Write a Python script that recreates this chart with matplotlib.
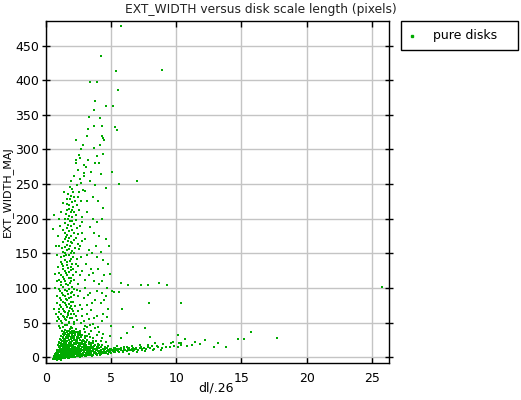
import matplotlib
matplotlib.use("Agg")
import matplotlib.pyplot as plt
from matplotlib.patches import Rectangle
from matplotlib.lines import Line2D

# values (x = dl/.26, y = EXT_WIDTH_MAJ)
core_pts = [
    (0.55, -3), (0.7, -2), (0.85, -4), (1.0, -2.5), (1.2, -3.5), (1.45, -1.5), (0.6, 0), (0.8, 1),
    (0.95, -0.5), (1.1, 0.5), (1.3, -1), (1.55, 0.5), (1.75, -0.5), (2.0, 1), (2.25, 0), (2.5, 1.5),
    (2.8, 2), (3.1, 1), (3.4, 2.5), (0.65, 2), (0.9, 3), (1.05, 2), (1.25, 3.5), (1.4, 2), (1.65, 3),
    (1.9, 2.5), (2.15, 3.5), (2.4, 3), (2.7, 4), (3.0, 3.5), (3.3, 4.5), (3.6, 3.5), (3.9, 5), (4.2, 4.5),
    (4.5, 5.5), (0.75, 5), (0.95, 6), (1.15, 4.5), (1.35, 6), (1.5, 5), (1.7, 6.5), (1.85, 4.5), (2.05, 6),
    (2.3, 5), (2.55, 6.5), (2.85, 6), (3.15, 7), (3.45, 6), (3.75, 7.5), (4.05, 7), (4.35, 8), (4.65, 7.5),
    (4.95, 8.5), (5.25, 8), (5.55, 9), (0.85, 8), (1.0, 9), (1.2, 7.5), (1.4, 9), (1.6, 8), (1.8, 9.5),
    (1.95, 7.5), (2.2, 9), (2.45, 8), (2.7, 9.5), (2.95, 8.5), (3.25, 10), (3.55, 9), (3.85, 10.5),
    (4.15, 9.5), (4.45, 10.5), (4.8, 10), (5.1, 11), (5.4, 10.5), (5.7, 11.5), (6.0, 11), (6.3, 12),
    (6.6, 11.5), (0.9, 11), (1.1, 12), (1.3, 10.5), (1.5, 12.5), (1.7, 11), (1.9, 12), (2.1, 10.5),
    (2.35, 12), (2.6, 11), (2.9, 12.5), (3.2, 11.5), (3.5, 13), (3.8, 12), (4.1, 13), (4.4, 12.5),
    (4.7, 13.5), (5.0, 12.5), (5.3, 13.5), (5.8, 13), (6.2, 14), (6.9, 13.5), (7.3, 14.5),
    (1.0, 14), (1.2, 15.5), (1.4, 14), (1.6, 16), (1.8, 14.5), (2.0, 16), (2.25, 14.5), (2.5, 16),
    (2.75, 14.5), (3.05, 16), (3.35, 15), (3.7, 16.5), (4.0, 15.5), (4.35, 17), (4.8, 16),
    (0.95, 18), (1.15, 19), (1.35, 17.5), (1.55, 19.5), (1.75, 18), (1.95, 20), (2.2, 18.5), (2.45, 20),
    (2.7, 18.5), (3.0, 20.5), (3.3, 19), (3.65, 21), (4.0, 19.5), (1.05, 22), (1.25, 23.5), (1.45, 21.5),
    (1.65, 24), (1.85, 22.5), (2.05, 24), (2.3, 22), (2.6, 24.5), (2.9, 23), (3.2, 25), (3.6, 23.5),
    (4.2, 24), (1.1, 26), (1.3, 27.5), (1.5, 26), (1.7, 28), (1.9, 26.5), (2.15, 28), (2.4, 26.5),
    (2.7, 28.5), (3.0, 27), (3.4, 29), (1.2, 30), (1.4, 31.5), (1.6, 30), (1.8, 32), (2.0, 30.5),
    (2.25, 32), (2.5, 30.5), (2.8, 32.5), (3.2, 31), (1.3, 34), (1.5, 35.5), (1.7, 34), (1.9, 36),
    (2.1, 34.5), (2.35, 36), (2.65, 34.5), (3.0, 36.5), (1.25, 38), (1.45, 39.5), (1.65, 38), (1.85, 40),
    (2.05, 38.5), (2.3, 40), (2.6, 38.5),
]

core_fill_pts = [
    (0.62, -1.5), (0.78, 0.5), (0.92, 1.5), (1.08, -1), (1.18, 1.8), (1.33, 0.8), (1.48, 3), (1.62, 1.2),
    (1.78, 2.2), (1.92, 0), (2.08, 3), (2.2, 1.5), (2.36, 2.2), (2.52, 4), (2.66, 2.6), (2.9, 3.2),
    (3.05, 5), (3.22, 3), (3.5, 4), (3.7, 5.5), (3.95, 3.8), (4.1, 6), (4.3, 5.5), (4.6, 6.5), (4.85, 7),
    (0.7, 3.5), (0.82, 4.2), (0.98, 4.8), (1.12, 3.2), (1.28, 5.2), (1.42, 4), (1.58, 6.2), (1.72, 4.5),
    (1.88, 5.8), (2.0, 4.2), (2.15, 5.5), (2.28, 7), (2.42, 5.8), (2.6, 7.5), (2.78, 5.2), (2.92, 7),
    (3.08, 6), (3.28, 8), (3.4, 7.2), (3.62, 8.5), (3.82, 6.6), (4.0, 8.8), (4.2, 7.5), (4.5, 9),
    (4.7, 9.5), (5.0, 9.8), (5.2, 10), (5.5, 11), (0.8, 6.5), (0.92, 7.2), (1.05, 7.8), (1.18, 6.8),
    (1.32, 8.2), (1.45, 7.2), (1.55, 9.5), (1.68, 8.8), (1.82, 7), (1.98, 8.8), (2.1, 7.8), (2.25, 10),
    (2.38, 9), (2.55, 10.5), (2.65, 8.5), (2.8, 10.8), (3.0, 9.8), (3.15, 9), (3.4, 10.8), (3.65, 11.2),
    (3.95, 11.5), (4.25, 11), (4.55, 12), (4.9, 12), (5.2, 12.8), (5.6, 12.2), (6.0, 12.8), (6.4, 13),
    (6.8, 12.5), (0.88, 9.8), (1.02, 10.5), (1.15, 10), (1.25, 11.5), (1.38, 12.2), (1.52, 10.8),
    (1.62, 13.5), (1.75, 12.5), (1.88, 10.8), (2.02, 13.2), (2.15, 12.2), (2.3, 13.8), (2.45, 11.5),
    (2.55, 13.5), (2.72, 12.2), (2.85, 14.5), (3.0, 13), (3.3, 13.8), (3.6, 14.5), (3.9, 14.2),
    (4.2, 15), (4.55, 14.5), (1.05, 16.5), (1.22, 17.2), (1.32, 15.8), (1.48, 17.5), (1.62, 18.2),
    (1.72, 16.8), (1.88, 18.5), (2.1, 17.2), (2.32, 19), (2.55, 17.5), (2.82, 19.5), (3.1, 18),
    (3.45, 17.5), (1.18, 20.5), (1.38, 21.5), (1.58, 22.5), (1.78, 20.8), (1.95, 22.2), (2.18, 21),
    (2.4, 23), (2.75, 21.5), (3.1, 22.5), (3.5, 20), (1.2, 25), (1.4, 25.5), (1.6, 27), (1.8, 24.8),
    (2.0, 27.5), (2.3, 25), (2.55, 27.2), (2.85, 25.5), (1.35, 29), (1.55, 28.8), (1.75, 30.8),
    (1.95, 29), (2.15, 31), (2.4, 29.5), (2.65, 31.5), (3.0, 30), (1.45, 33), (1.65, 32.5), (1.85, 34.5),
    (2.05, 33), (2.25, 34.8), (2.5, 33), (1.4, 37), (1.6, 36.5), (1.8, 38.5), (2.0, 37), (2.2, 38),
    (2.45, 37), (3.3, 33), (3.6, 27), (3.9, 32), (4.3, 28), (3.5, 38), (3.8, 42), (4.1, 36), (2.9, 40),
    (3.2, 44), (4.6, 22), (4.4, 33),
    (0.68, 1.2), (0.88, -2), (1.0, 3.8), (1.22, -0.5), (1.38, 4.5), (1.52, 1.8), (1.68, -1), (1.82, 3.8),
    (2.12, 0.5), (2.32, 4), (2.62, 0.8), (2.98, 1.8), (3.25, 5.8), (3.55, 2.2), (3.85, 4.2), (4.15, 2.8),
    (4.4, 6.8), (4.75, 5), (1.1, 14.5), (1.3, 13), (1.5, 15), (1.7, 14), (1.9, 16.5), (2.1, 15),
    (2.4, 13), (2.65, 16.5), (2.95, 15.5), (3.2, 14), (3.5, 16), (3.8, 18), (4.1, 17.5), (1.0, 20),
    (1.3, 19), (1.5, 20.8), (2.0, 18.2), (2.6, 20.8), (2.9, 17), (3.3, 21.5), (3.85, 23), (1.55, 23.5),
    (2.15, 24.5), (2.75, 23.5),
]

tail_pts = [
    (5.0, 6), (5.3, 7), (5.6, 8), (5.9, 9), (6.2, 9.5), (6.5, 10), (6.8, 10.5), (7.1, 11), (7.4, 12),
    (7.7, 12.5), (8.0, 13), (8.3, 12), (8.6, 14), (8.9, 13.5), (9.2, 15), (9.5, 14), (9.8, 16),
    (10.1, 15), (10.4, 17), (10.8, 16), (11.2, 18), (6.0, 15), (6.6, 16), (7.2, 17), (7.8, 18),
    (8.4, 20), (9.0, 19), (9.6, 21), (10.2, 20), (7.0, 7), (7.6, 9), (8.2, 10), (8.8, 11), (5.5, 16),
    (6.4, 5), (9.76, 22), (10.4, 20), (10.7, 26), (11.4, 22), (12.2, 25), (13.85, 15), (14.7, 26),
    (15.2, 26), (15.76, 36), (17.7, 28), (12.9, 14), (11.8, 19), (13.2, 21),
    (5.15, 9.5), (5.45, 12), (5.75, 10), (6.05, 10.5), (6.35, 11), (6.65, 13), (6.95, 12), (7.25, 12.8),
    (7.55, 13.8), (7.85, 14.5), (8.15, 15.5), (8.5, 16), (5.9, 7.5), (6.7, 9), (7.4, 10),
]

arm_pts = [
    (1.0, 45), (1.3, 43), (1.6, 47), (1.9, 44), (2.2, 48), (1.15, 52), (1.45, 55), (1.75, 51),
    (2.05, 56), (2.4, 53), (0.95, 58), (1.3, 60), (1.6, 58), (1.95, 62), (2.3, 60), (1.05, 65),
    (1.4, 67), (1.7, 64), (2.0, 69), (1.2, 72), (1.55, 75), (1.85, 71), (2.25, 74), (0.9, 78),
    (1.3, 80), (1.65, 82), (1.95, 79), (1.1, 86), (1.45, 88), (1.8, 85), (2.15, 90), (1.25, 93),
    (1.6, 96), (1.9, 92), (2.4, 97), (1.0, 99), (1.35, 102), (1.7, 104), (2.05, 101), (1.15, 108),
    (1.5, 110), (1.85, 107), (2.2, 112), (1.3, 116), (1.65, 118), (1.95, 115), (1.05, 122),
    (1.45, 125), (1.8, 123), (2.1, 127), (1.3, 131), (1.6, 133), (1.95, 130), (2.35, 134),
    (1.15, 138), (1.5, 141), (1.85, 139), (1.4, 146), (1.75, 148), (2.1, 145), (1.3, 152),
    (1.65, 155), (2.0, 153), (1.5, 159), (1.85, 161), (2.25, 158), (1.35, 166), (1.7, 168),
    (2.05, 165), (1.55, 173), (1.9, 175), (2.3, 172), (1.45, 180), (1.8, 182), (2.15, 179),
    (1.6, 187), (1.95, 189), (2.4, 186), (1.5, 194), (1.85, 196), (2.2, 193), (1.7, 200),
    (2.05, 203), (1.55, 207), (1.9, 210), (2.3, 206), (1.75, 214), (2.1, 217), (1.6, 221),
    (2.0, 224), (2.4, 220), (1.85, 228), (2.2, 231), (1.7, 236), (2.55, 238), (2.0, 243), (2.4, 248),
    (1.9, 255), (2.7, 252), (2.2, 262), (2.5, 270), (2.9, 266), (2.3, 280), (2.6, 288),
]

arm_fill_pts = [
    (1.1, 42), (1.45, 46), (1.75, 49), (2.05, 42), (1.25, 50), (1.55, 53), (1.85, 57), (2.2, 51),
    (1.05, 55), (1.4, 58), (1.7, 61), (2.15, 63), (1.2, 63), (1.5, 65), (1.8, 67), (2.1, 66), (1.0, 70),
    (1.35, 70), (1.65, 72), (1.95, 74), (1.1, 76), (1.45, 78), (1.75, 77), (2.1, 80), (1.2, 83),
    (1.55, 84), (1.9, 87), (1.35, 90), (1.7, 91), (2.05, 94), (1.1, 95), (1.45, 97), (1.8, 99),
    (2.2, 99), (1.2, 104), (1.55, 106), (1.9, 110), (1.05, 112), (1.4, 113), (1.75, 114), (2.1, 118),
    (1.2, 119), (1.55, 121), (1.9, 126), (1.35, 128), (1.7, 129), (2.05, 135), (1.25, 135),
    (1.6, 137), (1.95, 142), (1.2, 144), (1.55, 147), (1.9, 150), (1.45, 151), (1.8, 156),
    (2.15, 150), (1.25, 158), (1.6, 162), (1.95, 167), (1.45, 170), (1.8, 172), (2.15, 169),
    (1.65, 177), (2.0, 184), (1.35, 184), (1.7, 191), (2.05, 197), (1.45, 199), (1.8, 204),
    (2.15, 210), (1.65, 213), (2.0, 213), (1.8, 220), (2.25, 226), (1.95, 233), (1.6, 228),
    (2.1, 239), (1.85, 246),
    (2.45, 105), (2.6, 118), (2.5, 132), (2.7, 145), (2.55, 156), (2.75, 168), (2.5, 178), (2.65, 190),
    (2.8, 202), (2.55, 212), (2.7, 225), (2.45, 232), (2.85, 242), (2.6, 258), (2.35, 123), (2.4, 142),
    (2.45, 163), (2.35, 198), (2.5, 88), (2.65, 75), (2.45, 66), (2.8, 60), (0.85, 88), (0.9, 110),
    (0.95, 130), (0.85, 148), (1.0, 160), (0.95, 175), (1.1, 190), (1.2, 210), (1.3, 222), (1.4, 238),
    (1.05, 200), (0.9, 52), (0.8, 62),
]

cloud_pts = [
    (0.6, 70), (0.7, 120), (0.8, 160), (0.55, 185), (0.75, 100), (0.65, 205), (2.7, 50), (3.0, 45),
    (3.3, 55), (3.6, 48), (3.9, 60), (4.3, 52), (4.7, 58), (2.8, 70), (3.2, 75), (3.5, 68), (3.8, 82),
    (4.2, 78), (4.6, 88), (2.6, 95), (3.0, 100), (3.4, 92), (3.7, 110), (4.1, 105), (4.5, 118),
    (2.8, 125), (3.1, 135), (3.5, 128), (3.9, 145), (4.4, 140), (2.6, 160), (3.0, 170), (3.3, 155),
    (3.7, 180), (4.1, 175), (2.8, 195), (3.2, 210), (3.6, 200), (4.0, 225), (4.4, 215), (3.0, 240),
    (3.4, 255), (3.8, 248), (4.2, 265), (3.1, 275), (2.95, 277), (3.77, 281), (4.08, 281),
    (2.33, 285), (3.26, 285), (2.57, 292), (4.4, 293), (3.72, 302), (2.87, 306), (4.15, 306),
    (2.3, 314), (4.5, 314), (3.2, 320), (4.3, 320), (3.26, 330), (3.72, 334), (4.28, 334),
    (5.5, 328), (5.3, 332), (4.9, 30), (5.0, 45), (4.8, 70), (5.05, 95), (4.95, 120), (4.85, 160),
    (4.5, 82), (5.25, 94), (5.6, 94), (5.86, 70), (5.8, 107), (6.3, 104), (7.3, 104), (7.85, 104),
    (8.7, 107), (9.26, 104), (7.9, 78), (10.4, 78), (6.7, 43), (7.6, 42), (8.0, 29), (10.15, 32),
    (25.8, 101), (5.8, 27), (6.2, 35), (7.0, 254), (5.6, 250), (5.05, 268),
    (2.9, 52), (3.15, 62), (3.4, 47), (3.7, 57), (4.0, 44), (4.4, 63), (2.95, 85), (3.25, 90),
    (3.55, 78), (3.9, 95), (4.3, 92), (4.7, 100), (3.0, 112), (3.3, 118), (3.6, 122), (4.0, 128),
    (4.35, 110), (4.75, 135), (3.2, 148), (3.55, 150), (3.85, 160), (4.2, 152), (4.6, 170),
    (2.75, 180), (3.4, 188), (3.9, 195), (4.3, 200), (3.15, 225), (3.6, 232), (2.9, 262), (3.5, 268),
    (4.6, 245), (3.95, 290), (2.7, 300),
]

outlier_pts = [
    (5.8, 478), (4.23, 435), (8.9, 415), (5.4, 413), (3.39, 397), (3.9, 397), (5.56, 386),
    (3.77, 370), (4.6, 363), (5.17, 363), (3.72, 357), (3.34, 347), (4.15, 346), (4.4, 316),
]

x_ticks = [0, 5, 10, 15, 20, 25]
y_ticks = [0, 50, 100, 150, 200, 250, 300, 350, 400, 450]

all_pts = core_pts + core_fill_pts + tail_pts + arm_pts + arm_fill_pts + cloud_pts + outlier_pts
xs = [p[0] for p in all_pts]
ys = [p[1] for p in all_pts]

green = '#00aa00'
plt.rcParams['font.family'] = 'DejaVu Sans'

fig = plt.figure(figsize=(5.21, 4.0), dpi=100)
ax = fig.add_axes([45.7 / 521, 1 - 362.7 / 400, (389 - 45.7) / 521, (362.7 - 20.7) / 400])

ax.scatter(xs, ys, s=1.8, marker='s', c=green, linewidths=0, zorder=3)

ax.set_xlim(0, 26.3)
ax.set_ylim(-8, 486)
ax.set_xticks(x_ticks)
ax.set_yticks(y_ticks)
ax.grid(True, color='#c4c4c4', linewidth=1.0)
ax.set_axisbelow(True)
for s in ax.spines.values():
    s.set_linewidth(1.0)
    s.set_color('black')

ax.tick_params(axis='x', direction='in', length=4, width=1, top=True, labelsize=9, pad=7)
ax.tick_params(axis='y', which='both', direction='inout', length=6, width=1, labelsize=9, pad=2)
ax.tick_params(axis='y', right=True)

fig.text(0.501, 0.977, 'EXT_WIDTH versus disk scale length (pixels)', ha='center', va='center',
         fontsize=8.8, color='#222222')
fig.text(0.415, 0.03, 'dl/.26', ha='center', va='center', fontsize=9)
fig.text(0.014, 0.522, 'EXT_WIDTH_MAJ', ha='center', va='center', rotation=90, fontsize=8)

# legend box drawn by hand to match the reference placement
fig.patches.append(Rectangle((400.5 / 521, 1 - 50 / 400), 117.5 / 521, 29 / 400,
                             transform=fig.transFigure, facecolor='white', edgecolor='black',
                             linewidth=1.0))
fig.lines.append(Line2D([412 / 521], [1 - 36 / 400], transform=fig.transFigure, marker='s',
                        markersize=1.6, color=green, linestyle='none'))
fig.text(433 / 521, 1 - 36 / 400, 'pure disks', ha='left', va='center', fontsize=9)

fig.savefig('out.png', dpi=100)
